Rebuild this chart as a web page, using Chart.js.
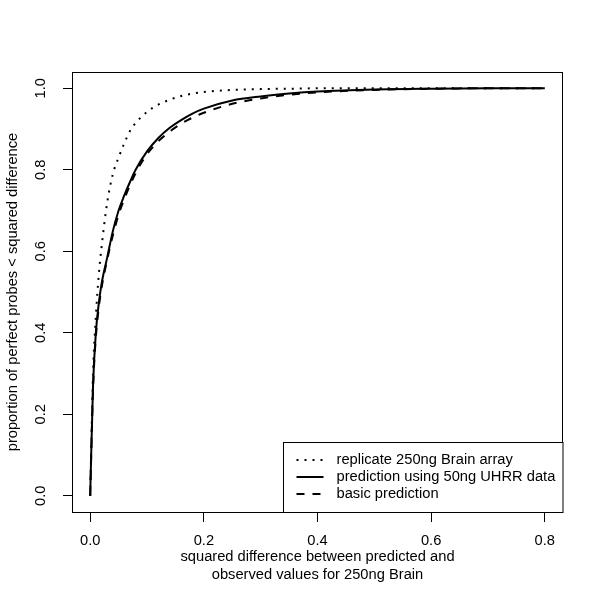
<!DOCTYPE html>
<html>
<head>
<meta charset="utf-8">
<script src="https://cdn.jsdelivr.net/npm/chart.js@4/dist/chart.umd.min.js"></script>
<style>
  html, body { margin: 0; padding: 0; background: #fff; }
  #wrap { width: 600px; height: 603px; }
</style>
</head>
<body>
<div id="wrap"><canvas id="chart" width="600" height="603"></canvas></div>
<script>
// squared difference grid (x) and cumulative proportions
const diffs = [0, 0.005, 0.01, 0.015, 0.02, 0.03, 0.04, 0.05, 0.06, 0.07, 0.08,
  0.1, 0.12, 0.14, 0.16, 0.18, 0.2, 0.25, 0.3, 0.35, 0.4, 0.5, 0.6, 0.7, 0.8];
const replicate = [0, 0.30, 0.44, 0.54, 0.61, 0.72, 0.79, 0.83, 0.865, 0.895, 0.915,
  0.942, 0.960, 0.972, 0.981, 0.987, 0.991, 0.996, 0.998, 0.999, 1.0, 1.0, 1.0, 1.0, 1.0];
const uhrr = [0, 0.27, 0.40, 0.47, 0.52, 0.585, 0.65, 0.70, 0.737, 0.77, 0.80,
  0.845, 0.878, 0.903, 0.922, 0.938, 0.950, 0.970, 0.980, 0.987, 0.992, 0.997, 0.999, 1.0, 1.0];
const basic = [0, 0.26, 0.39, 0.46, 0.51, 0.58, 0.64, 0.69, 0.728, 0.762, 0.792,
  0.838, 0.870, 0.894, 0.913, 0.928, 0.940, 0.962, 0.975, 0.984, 0.990, 0.996, 0.999, 1.0, 1.0];

const xTicks = [0, 0.2, 0.4, 0.6, 0.8];
const yTicks = [0, 0.2, 0.4, 0.6, 0.8, 1.0];
const legendLabels = ['replicate 250ng Brain array', 'prediction using 50ng UHRR data', 'basic prediction'];
const xTitle = ['squared difference between predicted and', 'observed values for 250ng Brain'];
const yTitle = 'proportion of perfect probes < squared difference';

const FAMILY = '"Liberation Sans", Arial, Helvetica, sans-serif';
const FONT = '14.7px ' + FAMILY;
const dashes = [[2, 6], [], [8, 8]];

function pts(ys) {
  return diffs.map((x, i) => ({ x: x, y: ys[i] }));
}

function ds(label, ys, dash) {
  return {
    label: label,
    data: pts(ys),
    showLine: true,
    borderColor: '#000',
    borderWidth: 2,
    borderDash: dash,
    borderCapStyle: 'butt',
    pointRadius: 0,
    cubicInterpolationMode: 'monotone'
  };
}

// box, rotated y labels, titles and legend in R style
const rDecor = {
  id: 'rDecor',
  afterDraw(chart) {
    const ctx = chart.ctx;
    const a = chart.chartArea;
    const ys = chart.scales.y;
    ctx.save();
    ctx.strokeStyle = '#000';
    ctx.lineWidth = 1;
    ctx.setLineDash([]);
    ctx.strokeRect(Math.round(a.left) + 0.5, Math.round(a.top) + 0.5,
      Math.round(a.right - a.left) - 1, Math.round(a.bottom - a.top));

    ctx.fillStyle = '#000';
    ctx.font = FONT;
    ctx.textAlign = 'center';
    ctx.textBaseline = 'middle';
    yTicks.forEach(v => {
      ctx.save();
      ctx.translate(a.left - 31, ys.getPixelForValue(v));
      ctx.rotate(-Math.PI / 2);
      ctx.fillText(v.toFixed(1), 0, 0);
      ctx.restore();
    });

    const cx = (a.left + a.right) / 2;
    ctx.fillText(xTitle[0], cx, a.bottom + 45);
    ctx.fillText(xTitle[1], cx, a.bottom + 63);
    ctx.save();
    ctx.translate(13, (a.top + a.bottom) / 2);
    ctx.rotate(-Math.PI / 2);
    ctx.fillText(yTitle, 0, 0);
    ctx.restore();

    // legend, bottom right
    const lx = 283.5, ly = a.bottom - 70;
    ctx.fillStyle = '#fff';
    ctx.fillRect(lx, ly, a.right - lx, a.bottom - ly);
    ctx.strokeRect(lx, Math.round(ly) + 0.5, Math.round(a.right - lx) - 0.5, Math.round(a.bottom - ly));
    ctx.fillStyle = '#000';
    ctx.textAlign = 'left';
    legendLabels.forEach((t, i) => {
      const y = ly + 18 + i * 17;
      ctx.setLineDash(dashes[i]);
      ctx.lineWidth = 2;
      ctx.lineCap = 'butt';
      ctx.beginPath();
      ctx.moveTo(lx + 13, y);
      ctx.lineTo(lx + 40, y);
      ctx.stroke();
      ctx.fillText(t, lx + 53, y);
    });
    ctx.restore();
  }
};

new Chart(document.getElementById('chart'), {
  type: 'scatter',
  data: {
    datasets: [
      ds(legendLabels[0], replicate, dashes[0]),
      ds(legendLabels[1], uhrr, dashes[1]),
      ds(legendLabels[2], basic, dashes[2])
    ]
  },
  options: {
    responsive: false,
    animation: false,
    layout: { padding: { left: 0, top: 72, right: 37, bottom: 0 } },
    plugins: { legend: { display: false }, tooltip: { enabled: false } },
    scales: {
      x: {
        type: 'linear',
        min: -0.032,
        max: 0.832,
        afterBuildTicks: s => { s.ticks = xTicks.map(v => ({ value: v })); },
        afterFit: s => { s.height = 91; },
        border: { display: false },
        grid: { drawOnChartArea: false, color: '#000', tickLength: 10, lineWidth: 1 },
        ticks: {
          color: '#000',
          font: { family: FAMILY, size: 14.7 },
          padding: 10,
          maxRotation: 0,
          callback: v => v.toFixed(1)
        }
      },
      y: {
        type: 'linear',
        min: -0.04,
        max: 1.04,
        afterBuildTicks: s => { s.ticks = yTicks.map(v => ({ value: v })); },
        afterFit: s => { s.width = 72; },
        border: { display: false },
        grid: { drawOnChartArea: false, color: '#000', tickLength: 9, lineWidth: 1 },
        ticks: { display: false }
      }
    }
  },
  plugins: [rDecor]
});
</script>
</body>
</html>
